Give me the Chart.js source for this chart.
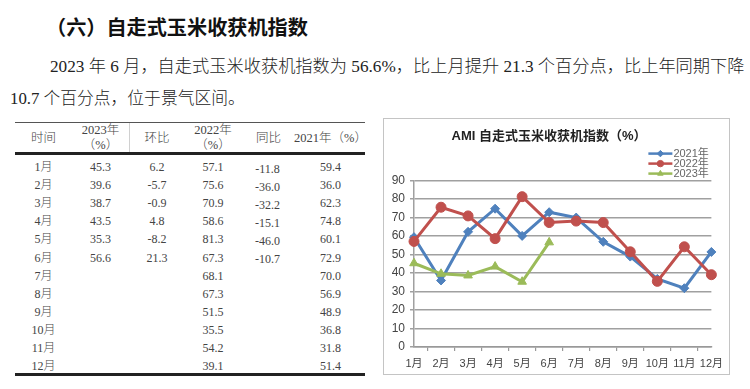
<!DOCTYPE html>
<html><head><meta charset="utf-8">
<script src="https://cdn.jsdelivr.net/npm/chart.js@4.4.0/dist/chart.umd.min.js"></script>
<style>
html,body{margin:0;padding:0;background:#fff;}
body{width:750px;height:389px;position:relative;overflow:hidden;font-family:"Liberation Serif","Noto Sans CJK SC",serif;color:#222;}
.abs{position:absolute;white-space:nowrap;}
#h{left:46px;top:14px;font-family:"Noto Sans CJK SC",sans-serif;font-weight:bold;font-size:20px;line-height:26px;color:#111;}
.p{font-size:17px;line-height:24px;font-weight:300;color:#222;}
#p1{left:50px;top:55px;}
#p2{left:10px;top:87px;}
.line{position:absolute;background:#333;}
.cell{position:absolute;white-space:nowrap;transform:translate(-50%,-50%);font-size:12px;line-height:14px;color:#444;text-align:center;font-weight:300;}
#box{position:absolute;left:383px;top:118px;width:345px;height:255px;border:1.5px solid #c4c4c4;}
#c{position:absolute;left:0;top:0;}
</style></head>
<body>
<div id="h" class="abs" data-w="262">（六）自走式玉米收获机指数</div>
<div id="p1" class="abs p" data-w="695">2023 年 6 月，自走式玉米收获机指数为 56.6%，比上月提升 21.3 个百分点，比上年同期下降</div>
<div id="p2" class="abs p" data-w="235">10.7 个百分点，位于景气区间。</div>
<div id="tbl"></div>
<div id="box"><canvas id="c" width="345" height="255"></canvas></div>
<script>
// ---- data ----
const months = ['1月','2月','3月','4月','5月','6月','7月','8月','9月','10月','11月','12月'];
const idx2021 = [59.4, 36.0, 62.3, 74.8, 60.1, 72.9, 70.0, 56.9, 48.9, 36.8, 31.8, 51.4];
const idx2022 = [57.1, 75.6, 70.9, 58.6, 81.3, 67.3, 68.1, 67.3, 51.5, 35.5, 54.2, 39.1];
const idx2023 = [45.3, 39.6, 38.7, 43.5, 35.3, 56.6, null, null, null, null, null, null];
const mom2023 = [6.2, -5.7, -0.9, 4.8, -8.2, 21.3];
const yoy2023 = [-11.8, -36.0, -32.2, -15.1, -46.0, -10.7];
const tableHeaders = ['时间', '2023年<br>（%）', '环比', '2022年<br>（%）', '同比', '2021年（%）'];
const seriesLabels = ['2021年', '2022年', '2023年'];
const chartTitle = 'AMI 自走式玉米收获机指数（%）';

// ---- table ----
(function(){
  const t = document.getElementById('tbl');
  const colX = [43.5, 100.5, 157, 213, 268.5, 330.5];
  const add = (html, x, y, extra) => {
    const d = document.createElement('div'); d.className = 'cell'; d.innerHTML = html;
    d.style.left = x + 'px'; d.style.top = y + 'px'; if (extra) Object.assign(d.style, extra);
    t.appendChild(d);
  };
  const line = (x, y, w, h, c) => {
    const d = document.createElement('div'); d.className = 'line';
    Object.assign(d.style, {left: x + 'px', top: y + 'px', width: w + 'px', height: h + 'px'});
    if (c) d.style.background = c; t.appendChild(d);
  };
  line(15, 122, 350, 1, '#555');
  line(15, 152, 350, 3, '#222');
  line(15, 373, 350, 3, '#222');
  line(129, 123, 1, 29, '#d0d0d0');
  tableHeaders.forEach((h, i) => add(h, colX[i], 138, {lineHeight: '15px', fontSize: '12.5px'}));
  const fmt = v => (v == null ? '' : v.toFixed(1));
  months.forEach((m, r) => {
    const y = 167 + r * 18.1;
    const row = [m, fmt(idx2023[r]), fmt(mom2023[r]), fmt(idx2022[r]), fmt(yoy2023[r]), fmt(idx2021[r])];
    row.forEach((v, i) => add(v, colX[i] + (i === 4 ? -1 : 0), y + (i === 4 ? 1.5 : 0)));
  });
})();

// fit text widths
function fitAll(){
  document.querySelectorAll('[data-w]').forEach(el => {
    const target = +el.dataset.w;
    const fs = parseFloat(getComputedStyle(el).fontSize);
    const w = el.getBoundingClientRect().width;
    el.style.fontSize = (fs * target / w) + 'px';
  });
}

// ---- chart ----
const colors = ['#4F81BD', '#C0504D', '#9BBB59'];
const styles = ['rectRot', 'circle', 'triangle'];
const legendPlugin = {
  id: 'xlLegend',
  afterDraw(chart) {
    const ctx = chart.ctx, a = chart.chartArea;
    chart.data.datasets.forEach((ds, i) => {
      const y = a.top - 27 + i * 10;
      const x0 = a.right - 63, x1 = a.right - 39;
      ctx.save();
      ctx.strokeStyle = ds.borderColor; ctx.lineWidth = 2.5;
      ctx.beginPath(); ctx.moveTo(x0, y); ctx.lineTo(x1, y); ctx.stroke();
      ctx.fillStyle = ds.backgroundColor; ctx.strokeStyle = ds.borderColor; ctx.lineWidth = 1;
      Chart.helpers.drawPoint(ctx, {pointStyle: ds.pointStyle, radius: 3.2, rotation: 0, borderWidth: 1}, (x0 + x1) / 2, y);
      ctx.fillStyle = '#666'; ctx.font = '11px "Liberation Sans","Noto Sans CJK SC"';
      ctx.textBaseline = 'middle'; ctx.textAlign = 'left';
      ctx.fillText(ds.label, x1 + 1, y + 0.5);
      ctx.restore();
    });
  }
};

function draw(){
  fitAll();
  const mk = (i, data, r) => ({
    label: seriesLabels[i], data,
    borderColor: colors[i], backgroundColor: colors[i],
    pointBackgroundColor: colors[i], pointBorderColor: colors[i],
    pointStyle: styles[i], pointRadius: r, pointBorderWidth: 1,
    borderWidth: 3, tension: 0, order: 3 - i, spanGaps: false, fill: false
  });
  new Chart(document.getElementById('c'), {
    type: 'line',
    data: {labels: months, datasets: [mk(0, idx2021, 4.5), mk(1, idx2022, 5), mk(2, idx2023, 5)]},
    options: {
      responsive: false, animation: false, events: [],
      layout: {padding: {top: 0, left: 0, right: 15, bottom: 0}},
      plugins: {
        legend: {display: false}, tooltip: {enabled: false},
        title: {display: true, text: chartTitle, color: '#222',
          font: {size: 13, weight: 'bold', family: '"Liberation Sans","Noto Sans CJK SC"'},
          padding: {top: 10, bottom: 36}}
      },
      scales: {
        x: {
          grid: {display: true, drawOnChartArea: false, drawTicks: true, tickLength: 4, color: '#999', lineWidth: 1.2, offset: true},
          border: {display: true, color: '#999', width: 1.5},
          ticks: {font: {size: 11, family: '"Liberation Sans","Noto Sans CJK SC"'}, color: '#444', padding: 6, maxRotation: 0, autoSkip: false},
          afterFit(s) { s.height = 27; }
        },
        y: {
          min: 0, max: 90,
          ticks: {stepSize: 10, font: {size: 12, family: '"Liberation Sans"'}, color: '#444', padding: 5},
          grid: {color: '#a0a0a0', lineWidth: 1.5, tickLength: 4},
          border: {display: true, color: '#a0a0a0', width: 1.5},
          afterFit(s) { s.width = 30; }
        }
      }
    },
    plugins: [legendPlugin]
  });
}
if (document.fonts && document.fonts.ready) document.fonts.ready.then(draw); else draw();
</script>
</body></html>
